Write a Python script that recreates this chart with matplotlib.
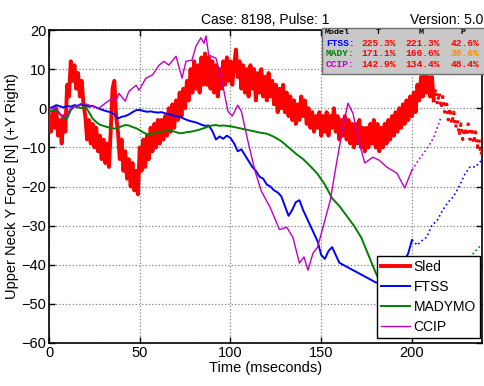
import numpy as np
import matplotlib
matplotlib.use("Agg")
import matplotlib.pyplot as plt
from matplotlib.patches import Rectangle

plt.rcParams['font.family'] = ['Liberation Sans', 'DejaVu Sans']

# ---------------- data ----------------
# Sled, sampled every 1 ms from 0 to 212 ms
sled_vals = [-2, -6, -1, -5, 0, -7, -3, -9, -2, -6,
             6, 3, 12, 7, 11, 5, 9, 3, 7, 1,
             -2, -8, -3, -9, -4, -10, -5, -11, -7, -13,
             -8, -14, -9, -15, -6, 5, 7, -2, -6, -13,
             -8, -16, -11, -18, -13, -20, -14, -21, -16, -22,
             -10, -16, -8, -15, -7, -13, -5, -11, -4, -10,
             -3, -9, -3, -8, -2, -7, 0, -6, 1, -5,
             2, -3, 4, -2, 5, 0, 7, 2, 10, 4,
             12, 5, 11, 4, 13, 6, 14, 6, 13, 5,
             12, 4, 11, 3, 10, 5, 12, 6, 13, 7,
             12, 6, 11, 15, 8, 12, 5, 11, 4, 10,
             3, 11, 5, 10, 2, 9, 4, 10, 3, 8,
             2, 9, 3, 7, 1, 6, -1, 5, 0, 6,
             -1, 4, -2, 3, -3, 2, -4, 1, -3, 3,
             -2, 2, -4, 0, -5, -1, -6, -2, -5, -1,
             -7, -2, -6, -1, -7, -2, -5, 0, -6, -2,
             -8, -3, -7, -2, -8, -3, -9, -4, -10, -4,
             -9, -3, -10, -5, -11, -5, -10, -4, -9, -3,
             -10, -4, -11, -5, -10, -4, -9, -3, -8, -2,
             -7, -1, -6, 0, -5, 1, -4, 2, -3, 3,
             -2, 4, -1, 6, 2, 8, 3, 9, 4, 8,
             3, 8, 2]
sled_t = np.arange(len(sled_vals))
sled_ext_t = [212, 213, 214, 215, 216, 217, 218, 219, 220, 221, 222, 223, 224, 225,
              226, 227, 228, 229, 230, 231, 232, 233, 234, 235, 236, 237, 238, 239]
sled_ext = [2, 5, 1, 4, 0, 3, -1, 2, -3, 0, -4, -1, -5, -3,
            -7, -4, -8, -5, -7, -4, -8, -5, -9, -6, -10, -8, -12, -10]

ftss_t = [0, 2, 4, 6, 8, 10, 12, 14, 16, 18, 20, 22, 24, 26, 28, 30, 32, 34, 36, 38,
          40, 42, 44, 46, 48, 50, 52, 54, 56, 58, 60, 62, 64, 66, 68, 70, 72, 74, 76, 78,
          80, 82, 84, 86, 88, 90, 92, 94, 96, 98, 100, 102, 104, 106, 108, 110, 112, 114,
          116, 118, 120, 122, 124, 126, 128, 130, 132, 134, 136, 138, 140, 142, 144, 146,
          148, 150, 152, 154, 156, 158, 160, 162, 164, 166, 168, 170, 172, 174, 176, 178,
          180, 185, 190, 195, 198, 200]
ftss_vals = [0, 0.3, 0.8, 0.5, 0.2, 0.6, 0.4, 0.8, 0.6, 1.0, 0.7, 0.4, 0.6, 0.2, -0.2,
             -0.5, -0.8, -1.0, -1.6, -2.6, -2.2, -2.0, -1.6, -1.0, -0.5, -0.4, -0.7, -0.9,
             -0.8, -1.0, -1.1, -1.0, -1.3, -1.5, -1.8, -2.0, -2.2, -2.6, -3.0, -3.3, -3.5,
             -3.8, -4.2, -4.5, -4.4, -5.8, -8.0, -7.2, -7.8, -7.0, -7.6, -9.0, -11.0, -10.5,
             -12.0, -13.5, -15.0, -16.0, -17.5, -18.0, -19.5, -20.0, -21.0, -21.5, -22.5,
             -25.0, -27.5, -26.0, -24.0, -23.5, -26.0, -28.0, -30.0, -32.0, -34.0, -37.5,
             -38.5, -36.5, -35.5, -37.5, -39.5, -40.0, -40.5, -41.0, -41.5, -42.0, -42.5,
             -43.0, -43.5, -44.0, -44.5, -45.0, -44.0, -40.0, -37.0, -33.7]
ftss_ext_t = [200, 203, 205, 208, 211, 214, 217, 220, 223, 226, 229, 232, 235, 239]
ftss_ext = [-33.7, -35.0, -34.0, -33.0, -30.0, -28.6, -26.0, -24.0, -22.5, -20.0,
            -17.0, -15.0, -15.0, -13.0]

mady_t = [0, 2, 4, 6, 8, 10, 12, 14, 16, 18, 20, 22, 24, 26, 28, 30, 32, 34, 36, 38,
          40, 42, 44, 46, 48, 50, 52, 54, 56, 58, 60, 62, 64, 66, 68, 70, 72, 74, 76, 78,
          80, 82, 84, 86, 88, 90, 92, 94, 96, 98, 100, 104, 108, 112, 116, 120, 124, 128,
          132, 136, 140, 144, 148, 152, 156, 160, 164, 168, 172, 176, 180, 184, 188, 192,
          196, 200]
mady_vals = [-0.8, -0.5, -0.5, -1.5, -2.5, -2.6, -0.5, 0.5, 0.2, 0.0, 0.5, -1.0, -2.6,
             -3.5, -4.2, -4.5, -4.8, -5.0, -5.2, -5.0, -4.6, -4.3, -4.4, -4.8, -5.1, -5.6,
             -6.2, -6.6, -6.6, -6.4, -6.3, -6.0, -5.8, -5.6, -5.8, -6.1, -6.4, -6.3, -6.1,
             -6.0, -5.8, -5.6, -5.3, -5.0, -4.6, -4.4, -4.3, -4.5, -4.4, -4.5, -4.6, -5.0,
             -5.4, -5.8, -6.2, -6.5, -7.3, -8.4, -10.0, -11.6, -13.0, -14.8, -16.8, -19.5,
             -23.0, -25.0, -27.5, -30.0, -33.0, -37.5, -42.0, -46.0, -49.0, -51.0, -52.0,
             -52.0]
mady_ext_t = [200, 205, 210, 215, 220, 225, 230, 234, 237, 239]
mady_ext = [-52.0, -50.0, -48.0, -46.0, -43.0, -41.0, -39.0, -37.0, -35.5, -34.5]

ccip_t = [0, 4, 7, 9, 12, 15, 18, 21, 24, 27.5, 31, 35, 37, 38.6, 42, 44, 48, 49.6,
          53.4, 57, 60.6, 63.4, 66, 70, 73.3, 75.5, 78.8, 81, 83.7, 85.4, 86.5, 88, 92,
          95, 98.6, 101, 104, 106, 109.6, 113.5, 117, 121.8, 127, 131, 134.4, 138, 140.5,
          142.7, 145.5, 148, 151, 155, 158.7, 162, 164.7, 167.5, 171, 174, 178.5, 182,
          186, 191.7, 196, 200]
ccip_vals = [0, 0, -2, -2.3, 0, 0.5, 1.3, 1.0, 0.5, 0, 1.3, 2.6, 2.0, 3.8, 1.8, 4.3,
             5.9, 4.6, 7.7, 8.5, 11, 12, 11, 13.3, 7.7, 12, 12.3, 15.9, 18, 16.6, 18.5,
             13.6, 12.8, 7.7, -0.8, -2, 0.8, -0.8, -8.4, -16, -21.2, -25.3, -31, -30.4,
             -33, -39.6, -38, -41.4, -37, -35.5, -30.4, -23.5, -13.3, -4.9, 1.3, -1.3,
             -8.9, -14, -12.5, -13.3, -15, -16.6, -20.4, -15.8]
ccip_ext_t = [200, 204, 208, 212, 216]
ccip_ext = [-15.8, -13.0, -10.5, -7.5, -2.3]

table_header = ["Model", "T", "M", "P"]
table_models = ["FTSS:", "MADY:", "CCIP:"]
table_T = ["225.3%", "171.1%", "142.9%"]
table_M = ["221.3%", "166.6%", "134.4%"]
table_P = ["42.6%", "38.6%", "48.4%"]

xticks = [0, 50, 100, 150, 200]
yticks = [-60, -50, -40, -30, -20, -10, 0, 10, 20]

# ---------------- figure ----------------
C_SLED = '#ff0000'
C_FTSS = '#0000ff'
C_MADY = '#008000'
C_CCIP = '#c000c0'

W, H = 484, 386
fig = plt.figure(figsize=(W / 100, H / 100), dpi=100)
ax = fig.add_axes([49 / W, 1 - 343 / H, 433 / W, 313 / H])

ax.plot(sled_t, sled_vals, color=C_SLED, lw=2.8, label='Sled', zorder=3)
ax.plot(sled_ext_t, sled_ext, color=C_SLED, lw=2.2, ls=':', zorder=3)
ax.plot(ftss_t, ftss_vals, color=C_FTSS, lw=1.4, label='FTSS', zorder=4)
ax.plot(ftss_ext_t, ftss_ext, color=C_FTSS, lw=1.2, ls=':', zorder=4)
ax.plot(mady_t, mady_vals, color=C_MADY, lw=1.4, label='MADYMO', zorder=5)
ax.plot(mady_ext_t, mady_ext, color=C_MADY, lw=1.2, ls=':', zorder=5)
ax.plot(ccip_t, ccip_vals, color=C_CCIP, lw=1.0, label='CCIP', zorder=6)
ax.plot(ccip_ext_t, ccip_ext, color=C_CCIP, lw=1.2, ls=':', zorder=6)

ax.set_xlim(0, 238.6)
ax.set_ylim(-60, 20)
ax.set_xticks(xticks)
ax.set_yticks(yticks)
ax.tick_params(direction='in', length=4, width=1, top=True, right=True,
               labelsize=10.5, pad=2)
ax.grid(True, ls=':', color='#808080', lw=0.9)
for s in ax.spines.values():
    s.set_linewidth(1.2)
    s.set_color('black')

ax.set_xlabel('Time (mseconds)', fontsize=10.5, labelpad=1)
ax.set_ylabel('Upper Neck Y Force [N] (+Y Right)', fontsize=10.5, labelpad=2)
ax.set_title('Case: 8198, Pulse: 1', fontsize=10, pad=4)
fig.text(0.998, 1 - 24.5 / H, 'Version: 5.0', ha='right', va='baseline', fontsize=10)

# info box (figure pixel coordinates converted to fractions)
box = Rectangle((322 / W, 1 - 74 / H), (W - 322) / W + 0.01, 46 / H,
                transform=fig.transFigure, facecolor='#c8c8c8',
                edgecolor='#707070', lw=1.0, zorder=8)
fig.add_artist(box)
mono = dict(family='Liberation Mono', fontsize=6.8, fontweight='bold', zorder=9)
hmono = dict(family='Liberation Mono', fontsize=6.0, fontweight='bold', zorder=9)
hy = 1 - 32.5 / H
for x, h, ha in zip([325, 378, 421, 463], table_header, ['left', 'center', 'center', 'center']):
    fig.text(x / W, hy, h, color='black', va='center', ha=ha, **hmono)
row_y = [43.5, 54, 64.5]
mcolors = [C_FTSS, C_MADY, C_CCIP]
for i in range(3):
    y = 1 - row_y[i] / H
    fig.text(326 / W, y, table_models[i], color=mcolors[i], va='center', ha='left', **mono)
    fig.text(361 / W, y, table_T[i], color='#ff0000', va='center', ha='left', **mono)
    fig.text(405 / W, y, table_M[i], color='#ff0000', va='center', ha='left', **mono)
    pc = '#ff8c00' if i == 1 else '#ff0000'
    fig.text(451 / W, y, table_P[i], color=pc, va='center', ha='left', **mono)

leg = ax.legend(loc='lower right', bbox_to_anchor=(1 - 2 / 433, 5 / 313), fontsize=10,
                frameon=True, fancybox=False, edgecolor='black', framealpha=1,
                handlelength=2.1, handletextpad=0.25, borderpad=0.3,
                labelspacing=0.42, borderaxespad=0)
leg.get_frame().set_linewidth(1.0)
leg.set_zorder(10)

fig.savefig('out.png', dpi=100)
